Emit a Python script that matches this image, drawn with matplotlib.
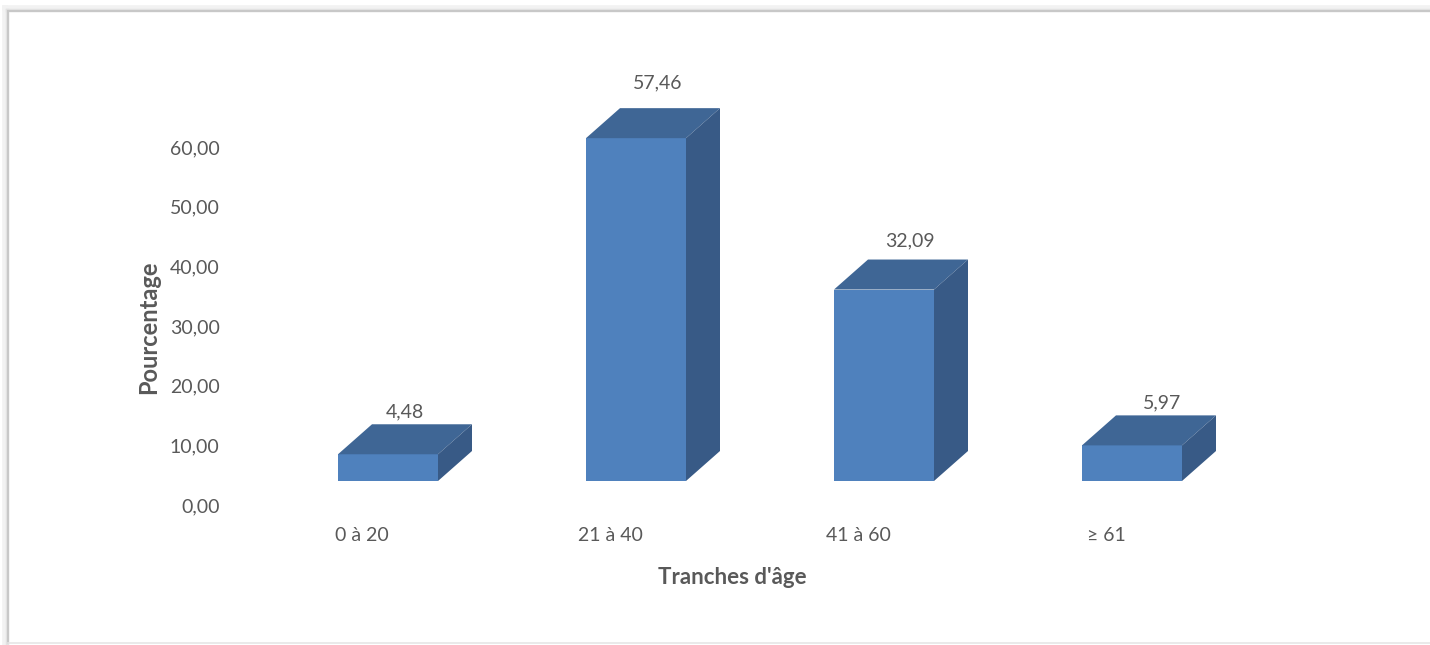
import matplotlib
matplotlib.use("Agg")
import matplotlib.pyplot as plt
from matplotlib.patches import Polygon
from matplotlib.lines import Line2D

# age groups and share of patients (%)
categories = ["0 à 20", "21 à 40", "41 à 60", "≥ 61"]
values = [4.48, 57.46, 32.09, 5.97]
yticks = [0, 10, 20, 30, 40, 50, 60]

plt.rcParams['font.family'] = ['Lato', 'DejaVu Sans']

FRONT = "#4F81BD"
TOP = "#3F6695"
SIDE = "#385A86"
TXT = "#595959"

W, H = 1430, 645
fig = plt.figure(figsize=(W / 100, H / 100), dpi=100)
fig.patch.set_facecolor("white")

# axes placed so that the value scale is 5.97 px per unit
px_unit = 358 / 60
x_left, x_right = 228, 1380
cat_step = 248
y0 = 505
ymax = 75
ax = fig.add_axes([x_left / W, (H - y0) / H, (x_right - x_left) / W, ymax * px_unit / H])
x_first = 388
ax.set_xlim(-(x_first - x_left) / cat_step, (x_right - x_first) / cat_step)
ax.set_ylim(0, ymax)
for s in ax.spines.values():
    s.set_visible(False)
ax.patch.set_visible(False)

# 3d column geometry (data units)
bw = 100 / cat_step
dx = 34 / cat_step
dy = 30 / px_unit
floor = 24 / px_unit
persp = 0.04  # labels drift upward a little with column height

for i, v in enumerate(values):
    x0, x1 = i - bw / 2, i + bw / 2
    b, t = floor, floor + v
    ax.add_patch(Polygon([(x0, b), (x1, b), (x1, t), (x0, t)], closed=True,
                         facecolor=FRONT, edgecolor="none", clip_on=False))
    ax.add_patch(Polygon([(x0, t), (x1, t), (x1 + dx, t + dy), (x0 + dx, t + dy)], closed=True,
                         facecolor=TOP, edgecolor="none", clip_on=False))
    ax.add_patch(Polygon([(x1, b), (x1 + dx, b + dy), (x1 + dx, t + dy), (x1, t)], closed=True,
                         facecolor=SIDE, edgecolor="none", clip_on=False))
    lx = i + (17 + 4.5 * i) / cat_step
    ax.annotate(f"{v:.2f}".replace(".", ","), xy=(lx, t + dy + v * persp),
                xytext=(0, 8), textcoords="offset points", ha="center", va="center",
                fontsize=14, color=TXT, clip_on=False)

ax.set_yticks(yticks)
ax.set_yticklabels([f"{t:.2f}".replace(".", ",") for t in yticks], fontsize=14, color=TXT)
ax.set_xticks([i - 0.105 for i in range(len(categories))])
ax.set_xticklabels(categories, fontsize=14, color=TXT)
ax.tick_params(axis="y", length=0, pad=6)
ax.tick_params(axis="x", length=0, pad=16)

fig.text(149 / W, 1 - 327 / H, "Pourcentage", rotation=90, ha="center", va="center",
         fontsize=17, fontweight="bold", color=TXT)
fig.text(732 / W, 1 - 578 / H, "Tranches d'âge", ha="center", va="center",
         fontsize=16, fontweight="bold", color=TXT)

# chart frame with soft shadow
for off, c, lw in [(3, "#F2F2F2", 4), (1.5, "#E4E4E4", 2.5), (0, "#C8C8C8", 1.5)]:
    fx0, fy0, fy1 = (8 - off) / W, 1 - (11 - off) / H, 1 - (643 + off) / H
    fig.add_artist(Line2D([fx0, 1], [fy0, fy0], color=c, lw=lw, transform=fig.transFigure))
    fig.add_artist(Line2D([fx0, fx0], [fy0, fy1], color=c, lw=lw, transform=fig.transFigure))
fig.add_artist(Line2D([8 / W, 1], [1 - 643 / H, 1 - 643 / H], color="#E6E6E6", lw=1.2,
                      transform=fig.transFigure))

fig.savefig("out.png", dpi=100)
